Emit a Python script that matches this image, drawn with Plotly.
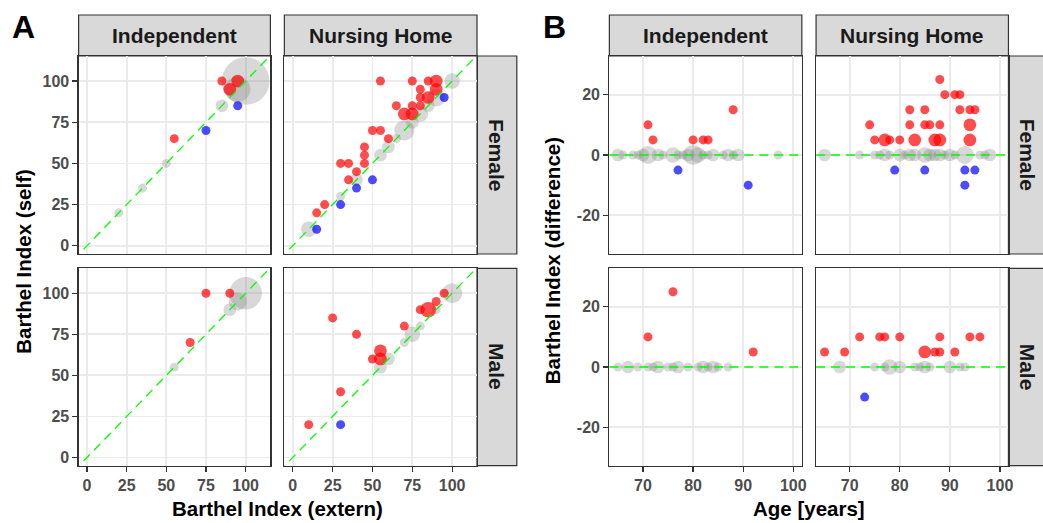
import numpy as np
import plotly.graph_objects as go

W, H = 1043, 523

# ---------------- DATA ----------------
# Panel A: Barthel Index extern (x) vs self (y), n = number of overlapping patients
A_IND_F_EXT  = [20, 35, 50, 85, 95, 100, 55, 85, 95, 90, 75, 95]
A_IND_F_SELF = [20, 35, 50, 85, 95, 100, 65, 100, 100, 95, 70, 85]
A_IND_F_N    = [1, 1, 1, 2, 8, 28, 1, 1, 2, 2, 1, 1]

A_NH_F_EXT  = [10, 30, 40, 55, 60, 65, 70, 75, 80, 85, 90, 100,
               55, 75, 85, 90, 80, 90, 80, 85, 65, 75, 80, 70, 75, 50, 55, 60, 45, 45, 45, 30, 35, 40, 35, 20, 15,
               95, 50, 40, 30, 15]
A_NH_F_SELF = [10, 30, 40, 55, 60, 65, 70, 75, 80, 85, 90, 100,
               100, 100, 100, 100, 95, 95, 90, 90, 85, 85, 85, 80, 80, 70, 70, 65, 60, 55, 50, 50, 50, 45, 40, 25, 20,
               90, 40, 35, 25, 10]
A_NH_F_N    = [3, 1, 2, 2, 2, 1, 5, 2, 3, 2, 4, 3,
               1, 1, 1, 2, 1, 2, 1, 2, 1, 1, 1, 2, 2, 1, 1, 1, 1, 1, 1, 1, 1, 1, 1, 1, 1,
               1, 1, 1, 1, 1]

A_IND_M_EXT  = [55, 90, 95, 100, 75, 90, 65]
A_IND_M_SELF = [55, 90, 95, 100, 100, 100, 70]
A_IND_M_N    = [1, 2, 4, 13, 1, 1, 1]

A_NH_M_EXT  = [55, 60, 70, 75, 80, 90, 100,
               25, 40, 30, 10, 50, 55, 55, 70, 80, 85, 90, 95, 30]
A_NH_M_SELF = [55, 60, 70, 75, 80, 90, 100,
               85, 75, 40, 20, 60, 65, 60, 80, 90, 90, 95, 100, 20]
A_NH_M_N    = [2, 2, 1, 3, 1, 1, 5,
               1, 1, 1, 1, 1, 2, 2, 1, 1, 3, 1, 1, 1]

# Panel B: age (x) vs difference self - extern (y)
B_IND_F_AGE  = [65, 66, 68, 69, 70, 71, 73, 74, 76, 77, 78, 79, 80, 81, 82, 83, 84, 86, 87, 88, 89, 97,
                71, 72, 80, 82, 83, 88, 77, 91]
B_IND_F_DIFF = [0] * 22 + [10, 5, 5, 5, 5, 15, -5, -10]
B_IND_F_N    = [2, 1, 1, 1, 2, 4, 2, 1, 3, 1, 1, 2, 5, 3, 1, 1, 2, 1, 2, 1, 2, 1,
                1, 1, 1, 1, 1, 1, 1, 1]

B_NH_F_AGE  = [65, 72, 75, 76, 77, 78, 80, 81, 82, 83, 85, 86, 87, 88, 89, 90, 91, 93, 96, 97, 98,
               88, 89, 91, 92, 82, 85, 92, 94, 95, 74, 82, 85, 86, 88, 94, 75, 77, 78, 80, 83, 87, 88, 94,
               79, 85, 93, 95, 93]
B_NH_F_DIFF = [0] * 21 + [25, 20, 20, 20, 15, 15, 15, 15, 15, 10, 10, 10, 10, 10, 10, 5, 5, 5, 5, 5, 5, 5, 5,
                          -5, -5, -5, -5, -10]
B_NH_F_N    = [2, 1, 1, 1, 2, 1, 2, 1, 2, 2, 3, 2, 2, 2, 1, 2, 1, 4, 1, 1, 2,
               1, 1, 1, 1, 1, 1, 1, 1, 1, 1, 1, 1, 1, 1, 2, 1, 2, 1, 1, 2, 2, 2, 2,
               1, 1, 1, 1, 1]

B_IND_M_AGE  = [65, 67, 69, 71, 72, 73, 75, 76, 77, 79, 81, 82, 83, 84, 85, 87, 76, 71, 92]
B_IND_M_DIFF = [0] * 16 + [25, 10, 5]
B_IND_M_N    = [1, 2, 1, 1, 1, 2, 1, 1, 2, 1, 1, 2, 1, 2, 1, 1, 1, 1, 1]

B_NH_M_AGE  = [68, 75, 77, 78, 80, 83, 84, 85, 86, 90, 92, 93,
               65, 69, 72, 76, 77, 80, 88, 94, 96, 85, 87, 88, 91, 73]
B_NH_M_DIFF = [0] * 12 + [5, 5, 10, 10, 10, 10, 10, 10, 10, 5, 5, 5, 5, -10]
B_NH_M_N    = [2, 1, 1, 3, 2, 1, 1, 2, 1, 2, 1, 1,
               1, 1, 1, 1, 1, 1, 1, 1, 1, 2, 1, 1, 1, 1]

COLUMNS = ["Independent", "Nursing Home"]
ROWS = ["Female", "Male"]
A_TICKS = [0, 25, 50, 75, 100]
B_XTICKS = [70, 80, 90, 100]
B_YTICKS = [-20, 0, 20]

# ---------------- LAYOUT (pixels) ----------------
A_COLS = [(79, 271.7), (285.7, 479.3)]
B_COLS = [(612.3, 805.7), (820, 1013.3)]
ROW_PX = [(56, 254), (268.3, 465.7)]
STRIP_TOP = 15
STRIP_W = 40

A_XR = [-5.3, 115.6]
A_YR = [-5, 115.2]
B_XR = [63.3, 101.7]
B_YR = [-32.8, 32.8]

FONT = "Liberation Sans"
RED, BLUE, GREY = "#FF0000", "#0000FF", "#7F7F7F"

panels = [
    # (block, col, row, x, y, n)
    ("A", 0, 0, A_IND_F_EXT, A_IND_F_SELF, A_IND_F_N),
    ("A", 1, 0, A_NH_F_EXT, A_NH_F_SELF, A_NH_F_N),
    ("A", 0, 1, A_IND_M_EXT, A_IND_M_SELF, A_IND_M_N),
    ("A", 1, 1, A_NH_M_EXT, A_NH_M_SELF, A_NH_M_N),
    ("B", 0, 0, B_IND_F_AGE, B_IND_F_DIFF, B_IND_F_N),
    ("B", 1, 0, B_NH_F_AGE, B_NH_F_DIFF, B_NH_F_N),
    ("B", 0, 1, B_IND_M_AGE, B_IND_M_DIFF, B_IND_M_N),
    ("B", 1, 1, B_NH_M_AGE, B_NH_M_DIFF, B_NH_M_N),
]

fig = go.Figure()
axes = {}
tickfont = dict(family=FONT, size=16, color="#4D4D4D", weight="bold")

for i, (blk, c, r, xs, ys, ns) in enumerate(panels, start=1):
    xs = np.array(xs, float); ys = np.array(ys, float); ns = np.array(ns, float)
    xref = "x" if i == 1 else f"x{i}"
    yref = "y" if i == 1 else f"y{i}"
    cols = A_COLS if blk == "A" else B_COLS
    x0, x1 = cols[c]
    y0, y1 = ROW_PX[r]
    xr = A_XR if blk == "A" else B_XR
    yr = A_YR if blk == "A" else B_YR

    diff = ys - xs if blk == "A" else ys
    groups = [(diff == 0, GREY, 0.3), (diff > 0, RED, 0.7), (diff < 0, BLUE, 0.7)]
    for mask, col, op in groups:
        if mask.sum() == 0:
            continue
        fig.add_trace(go.Scatter(
            x=xs[mask], y=ys[mask], mode="markers", xaxis=xref, yaxis=yref,
            marker=dict(size=9 * np.sqrt(ns[mask]), sizemode="diameter", color=col,
                        opacity=op, line=dict(width=0)),
            hoverinfo="skip", showlegend=False))
    # reference line
    if blk == "A":
        lx, ly = [xr[0] - 10, xr[1] + 10], [xr[0] - 10, xr[1] + 10]
    else:
        lx, ly = [xr[0], xr[1]], [0, 0]
    fig.add_trace(go.Scatter(x=lx, y=ly, mode="lines", xaxis=xref, yaxis=yref,
                             line=dict(color="#00FF00", width=1.3, dash="9px,6px"),
                             hoverinfo="skip", showlegend=False))

    bottom = r == 1
    left = c == 0
    common = dict(showgrid=True, gridcolor="#EBEBEB", gridwidth=1.8, zeroline=False,
                  showline=True, mirror=True, linecolor="#333333", linewidth=1.2,
                  ticklen=5, tickwidth=1.2, tickcolor="#333333", tickfont=tickfont,
                  fixedrange=True)
    xt = A_TICKS if blk == "A" else B_XTICKS
    yt = A_TICKS if blk == "A" else B_YTICKS
    axes["xaxis" if i == 1 else f"xaxis{i}"] = dict(
        domain=[x0 / W, x1 / W], range=xr, anchor=yref,
        tickvals=xt, ticktext=[str(v) for v in xt],
        showticklabels=bottom, ticks="outside" if bottom else "", **common)
    axes["yaxis" if i == 1 else f"yaxis{i}"] = dict(
        domain=[1 - y1 / H, 1 - y0 / H], range=yr, anchor=xref,
        tickvals=yt, ticktext=[str(v) for v in yt],
        showticklabels=left, ticks="outside" if left else "", **common)

shapes, annotations = [], []
stripfont = dict(family=FONT, size=21, color="#1A1A1A", weight="bold")
for cols in (A_COLS, B_COLS):
    for c, (x0, x1) in enumerate(cols):
        shapes.append(dict(type="rect", xref="paper", yref="paper",
                           x0=x0 / W, x1=x1 / W, y0=1 - ROW_PX[0][0] / H, y1=1 - STRIP_TOP / H,
                           fillcolor="#D9D9D9", line=dict(color="#333333", width=1.2), layer="below"))
        annotations.append(dict(text=COLUMNS[c], x=(x0 + x1) / 2 / W, y=1 - (STRIP_TOP + ROW_PX[0][0]) / 2 / H,
                                xref="paper", yref="paper", showarrow=False, font=stripfont,
                                xanchor="center", yanchor="middle"))
    rx = cols[1][1]
    for r, (y0, y1) in enumerate(ROW_PX):
        shapes.append(dict(type="rect", xref="paper", yref="paper",
                           x0=rx / W, x1=(rx + STRIP_W) / W, y0=1 - y1 / H, y1=1 - y0 / H,
                           fillcolor="#D9D9D9", line=dict(color="#333333", width=1.2), layer="below"))
        annotations.append(dict(text=ROWS[r], x=(rx + STRIP_W / 2) / W, y=1 - (y0 + y1) / 2 / H,
                                xref="paper", yref="paper", showarrow=False, font=stripfont,
                                textangle=90, xanchor="center", yanchor="middle"))

titlefont = dict(family=FONT, size=20.5, color="#000000", weight="bold")
mid_y = (ROW_PX[0][0] + ROW_PX[1][1]) / 2
annotations += [
    dict(text="Barthel Index (extern)", x=(A_COLS[0][0] + A_COLS[1][1]) / 2 / W, y=1 - 508 / H),
    dict(text="Age [years]", x=(B_COLS[0][0] + B_COLS[1][1]) / 2 / W, y=1 - 508 / H),
    dict(text="Barthel Index (self)", x=24 / W, y=1 - mid_y / H, textangle=-90),
    dict(text="Barthel Index (difference)", x=556 / W, y=1 - mid_y / H, textangle=-90),
]
for a in annotations[-4:]:
    a.update(xref="paper", yref="paper", showarrow=False, font=titlefont,
             xanchor="center", yanchor="middle")
labelfont = dict(family=FONT, size=32, color="#000000", weight="bold")
annotations += [
    dict(text="A", x=23.5 / W, y=1 - 27 / H, xref="paper", yref="paper", showarrow=False,
         font=labelfont, xanchor="center", yanchor="middle"),
    dict(text="B", x=557 / W, y=1 - 27 / H, xref="paper", yref="paper", showarrow=False,
         font=labelfont, xanchor="center", yanchor="middle"),
]

fig.update_layout(width=W, height=H, margin=dict(l=0, r=0, t=0, b=0),
                  paper_bgcolor="white", plot_bgcolor="white",
                  shapes=shapes, annotations=annotations, **axes)
fig.write_html("out.html", config={"displayModeBar": False, "staticPlot": True},
               post_script="document.body.style.margin='0';document.body.style.overflow='hidden';")
